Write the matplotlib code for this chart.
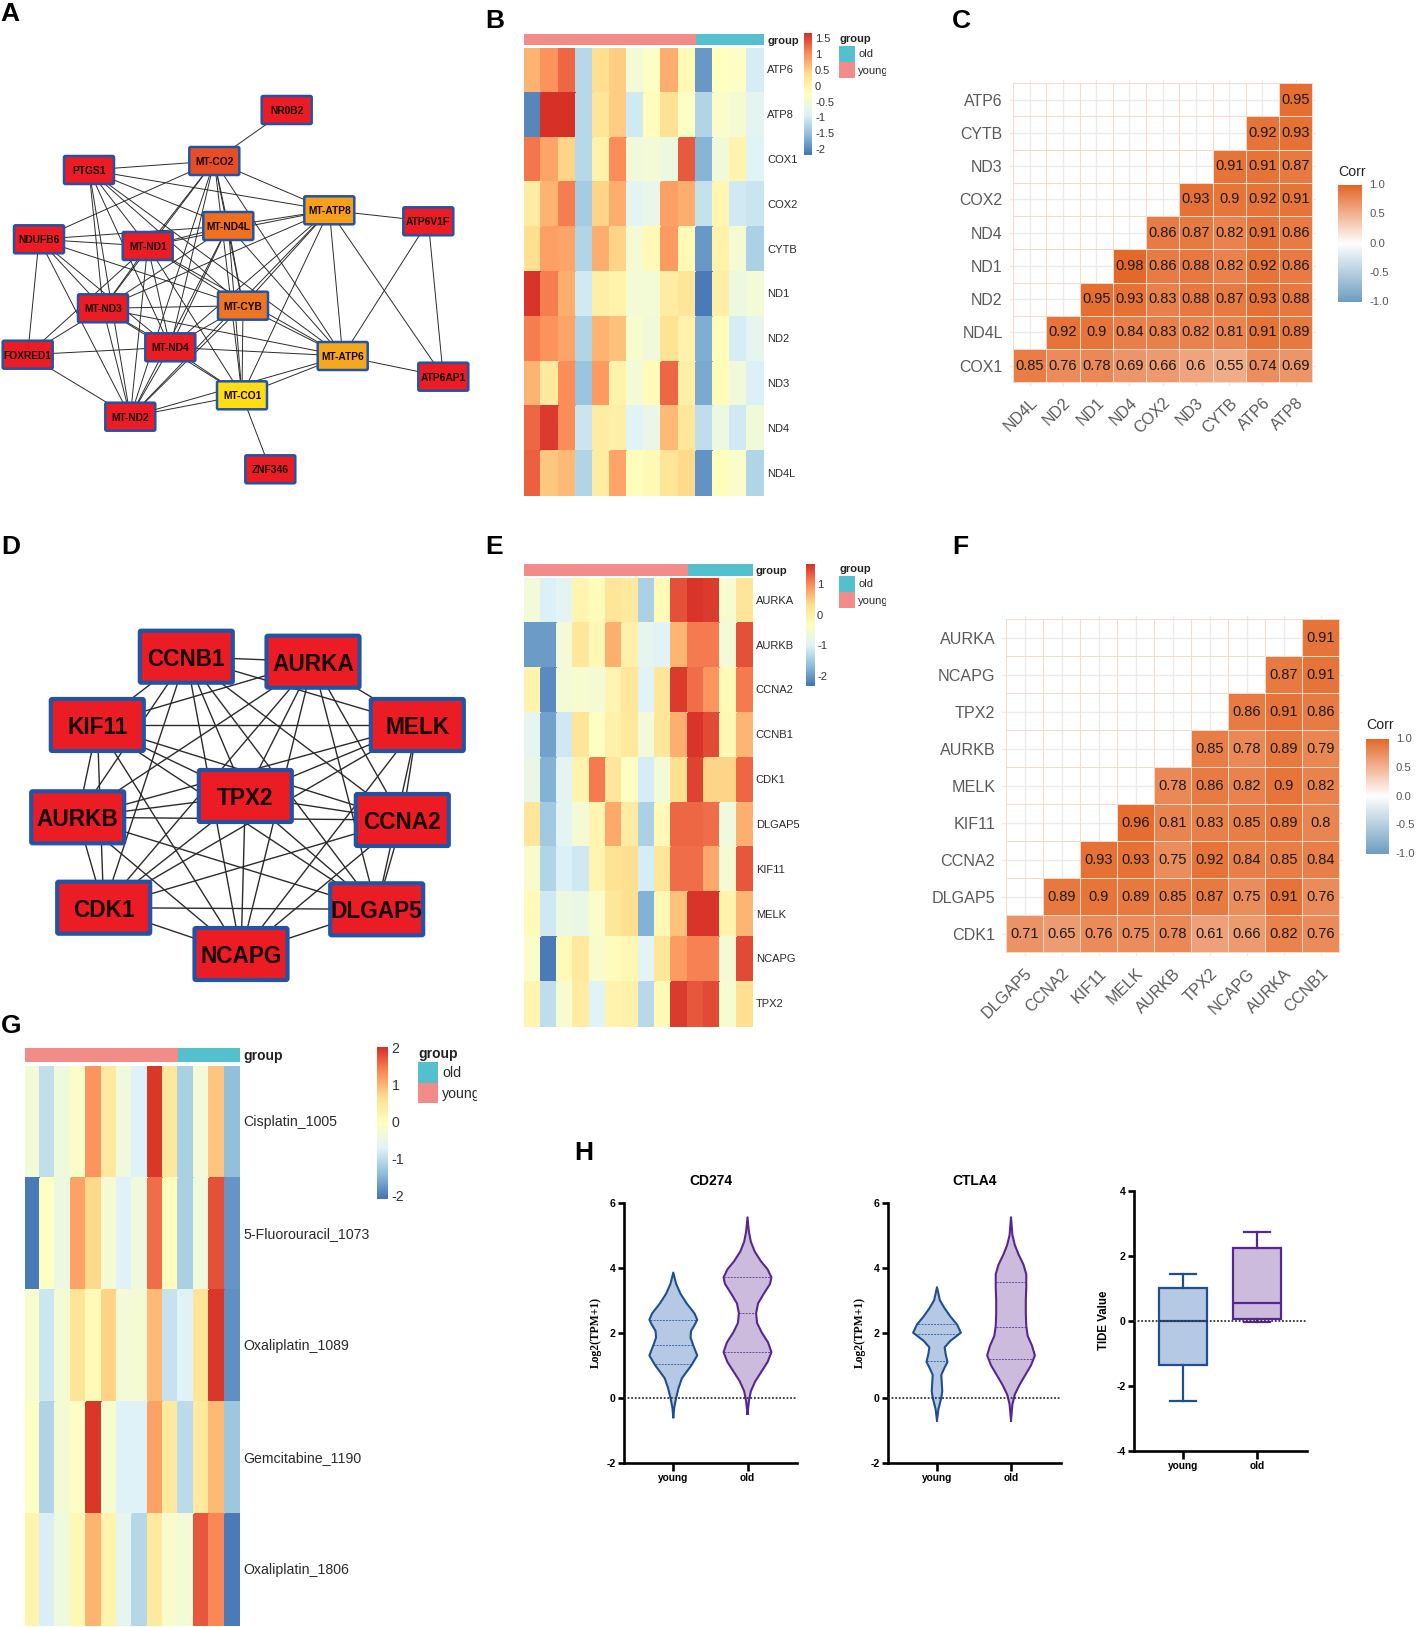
import itertools
import numpy as np
import matplotlib
matplotlib.use("Agg")
import matplotlib.pyplot as plt
from matplotlib.colors import LinearSegmentedColormap, Normalize
from matplotlib.patches import FancyBboxPatch, Rectangle
from matplotlib.transforms import Bbox

plt.rcParams['font.family'] = ['Liberation Sans', 'DejaVu Sans']

# ---------------- data ----------------
B_rows = ['ATP6', 'ATP8', 'COX1', 'COX2', 'CYTB', 'ND1', 'ND2', 'ND3', 'ND4', 'ND4L']
B_values = [
    [0.75, 1.0, 1.3, -1.2, 0.4, 0.55, -0.5, -0.3, 0.8, -0.1, -1.85, -0.25, -0.3, -0.95],
    [-2.0, 1.69, 1.69, -1.2, 0.3, 0.55, -1.0, -0.2, 0.35, -0.3, -1.25, -0.35, -0.45, -0.8],
    [1.2, 0.85, 0.5, -1.2, 0.05, 1.05, -0.55, -0.5, -0.6, 1.4, -1.6, -0.55, 0.0, -0.85],
    [0.15, 0.75, 1.15, -1.35, 0.5, 0.8, -0.8, -0.7, 0.9, 0.8, -1.1, -0.05, -1.0, -1.05],
    [0.4, 0.9, 0.85, -1.25, 0.8, 0.5, -0.45, -0.1, 0.95, -0.1, -1.85, 0.05, -0.45, -1.3],
    [1.65, 1.15, 0.8, -1.0, 0.1, 0.05, -0.5, -0.5, 0.15, 0.3, -2.1, 0.1, -0.6, -0.5],
    [1.15, 1.0, 0.85, -1.25, 0.75, 0.65, -0.4, -0.55, 0.35, 0.05, -1.65, -0.15, -0.95, -0.75],
    [0.75, 0.2, 1.05, -1.45, 0.95, 0.05, -0.5, -0.15, 1.3, 0.1, -1.7, -0.15, -0.55, -0.9],
    [1.3, 1.6, 1.05, -1.05, 0.15, 0.1, -0.85, -0.7, 0.7, 0.25, -1.15, -0.6, -1.0, -0.55],
    [1.35, 0.6, 0.7, -1.25, 0.15, 0.85, -0.2, -0.1, 0.3, 0.45, -1.9, -0.2, -0.35, -1.25],
]
B_ticks = [1.5, 1, 0.5, 0, -0.5, -1, -1.5, -2]

E_rows = ['AURKA', 'AURKB', 'CCNA2', 'CCNB1', 'CDK1', 'DLGAP5', 'KIF11', 'MELK', 'NCAPG', 'TPX2']
E_values = [
    [-0.6, -1.0, -0.9, -0.1, -0.25, 0.25, 0.15, -1.4, -0.2, 1.45, 1.65, 1.6, -0.5, 0.25],
    [-1.95, -1.95, -0.6, 0.2, -0.15, 0.75, 0.0, -0.85, -0.95, 0.7, 1.15, 1.15, -0.6, 1.45],
    [-0.05, -2.1, -0.55, -0.5, -0.55, -0.1, 0.2, -0.95, 0.2, 1.6, 1.25, 0.95, -0.2, 1.15],
    [-0.85, -1.9, -1.1, 0.25, -0.35, 0.0, 0.15, -0.6, 0.2, 0.75, 1.65, 1.5, -0.15, 0.7],
    [-0.75, -1.75, -0.9, -0.05, 1.15, 0.2, -0.35, -1.05, -0.6, 0.35, 1.55, 0.45, 0.45, 1.3],
    [0.2, -1.5, -0.9, -0.55, -0.1, 0.8, 0.1, -1.4, -0.2, 1.3, 1.3, 1.25, -0.65, 0.75],
    [-0.45, -1.35, -1.0, -1.1, -0.1, 0.3, 0.35, -1.05, 0.2, 1.25, 1.25, 0.8, -0.55, 1.4],
    [-0.2, -1.1, -0.7, -0.75, -0.4, 0.2, 0.35, -1.75, -0.15, 0.6, 1.65, 1.65, -0.05, 0.7],
    [-0.4, -2.25, -0.2, 0.15, -0.45, -0.25, -0.15, -0.9, 0.2, 0.9, 1.1, 1.1, -0.55, 1.5],
    [-0.1, -1.25, -0.5, 0.1, -0.95, -0.05, 0.0, -1.3, -0.2, 1.6, 1.4, 1.5, -0.5, 0.35],
]
E_ticks = [1, 0, -1, -2]

G_rows = ['Cisplatin_1005', '5-Fluorouracil_1073', 'Oxaliplatin_1089', 'Gemcitabine_1190', 'Oxaliplatin_1806']
G_values = [
    [-0.3, -0.95, -0.35, -0.1, 1.3, 0.45, -0.35, -0.7, 2, 0.5, -1.15, -0.3, 0.9, -1.35],
    [-2, -0.05, -0.4, 1.2, 0.75, -0.25, -0.7, -0.35, 1.6, 0.05, -1.15, -0.35, 1.8, -1.75],
    [-0.15, -0.85, -0.25, 0.6, 0.1, 0.8, -0.3, -0.25, 1.0, -0.9, -0.7, 0.55, 2, -1.8],
    [-0.05, -1.1, -0.25, -0.05, 2, -0.2, -0.7, -0.7, 1.2, 0.45, -1, 0.45, 1.0, -1.25],
    [0.25, -0.75, -0.35, 0.15, 1.05, 0.25, -0.55, -1.05, 0.45, -0.15, -0.3, 1.75, 1.4, -2],
]
G_ticks = [2, 1, 0, -1, -2]
n_young = 10

C_x = ['ND4L', 'ND2', 'ND1', 'ND4', 'COX2', 'ND3', 'CYTB', 'ATP6', 'ATP8']
C_y = ['ATP6', 'CYTB', 'ND3', 'COX2', 'ND4', 'ND1', 'ND2', 'ND4L', 'COX1']
C_values = [
    [0.95],
    [0.92, 0.93],
    [0.91, 0.91, 0.87],
    [0.93, 0.9, 0.92, 0.91],
    [0.86, 0.87, 0.82, 0.91, 0.86],
    [0.98, 0.86, 0.88, 0.82, 0.92, 0.86],
    [0.95, 0.93, 0.83, 0.88, 0.87, 0.93, 0.88],
    [0.92, 0.9, 0.84, 0.83, 0.82, 0.81, 0.91, 0.89],
    [0.85, 0.76, 0.78, 0.69, 0.66, 0.6, 0.55, 0.74, 0.69],
]
F_x = ['DLGAP5', 'CCNA2', 'KIF11', 'MELK', 'AURKB', 'TPX2', 'NCAPG', 'AURKA', 'CCNB1']
F_y = ['AURKA', 'NCAPG', 'TPX2', 'AURKB', 'MELK', 'KIF11', 'CCNA2', 'DLGAP5', 'CDK1']
F_values = [
    [0.91],
    [0.87, 0.91],
    [0.86, 0.91, 0.86],
    [0.85, 0.78, 0.89, 0.79],
    [0.78, 0.86, 0.82, 0.9, 0.82],
    [0.96, 0.81, 0.83, 0.85, 0.89, 0.8],
    [0.93, 0.93, 0.75, 0.92, 0.84, 0.85, 0.84],
    [0.89, 0.9, 0.89, 0.85, 0.87, 0.75, 0.91, 0.76],
    [0.71, 0.65, 0.76, 0.75, 0.78, 0.61, 0.66, 0.82, 0.76],
]
corr_ticks = [1.0, 0.5, 0.0, -0.5, -1.0]

A_mito = ['MT-CO2', 'MT-ATP8', 'MT-ND4L', 'MT-ND1', 'MT-CYB', 'MT-ND3', 'MT-ND4', 'MT-ATP6', 'MT-CO1', 'MT-ND2']
A_extra_edges = [
    ('NR0B2', 'MT-CO2'), ('ZNF346', 'MT-CO1'), ('ATP6V1F', 'MT-ATP8'), ('ATP6V1F', 'MT-ATP6'),
    ('ATP6V1F', 'ATP6AP1'), ('ATP6AP1', 'MT-ATP8'), ('ATP6AP1', 'MT-ATP6'),
    ('PTGS1', 'MT-CO2'), ('PTGS1', 'MT-ATP8'), ('PTGS1', 'MT-ND4L'), ('PTGS1', 'MT-ND1'),
    ('PTGS1', 'MT-ND3'), ('PTGS1', 'MT-CYB'), ('PTGS1', 'MT-ND4'), ('PTGS1', 'MT-ATP6'), ('PTGS1', 'MT-ND2'),
    ('NDUFB6', 'MT-CO2'), ('NDUFB6', 'MT-ND4L'), ('NDUFB6', 'MT-ND1'), ('NDUFB6', 'MT-CYB'),
    ('NDUFB6', 'MT-ND3'), ('NDUFB6', 'MT-ND4'), ('NDUFB6', 'FOXRED1'), ('NDUFB6', 'MT-ND2'),
    ('FOXRED1', 'MT-ND3'), ('FOXRED1', 'MT-ND1'), ('FOXRED1', 'MT-ND4'), ('FOXRED1', 'MT-ND2'),
]
D_genes = ['CCNB1', 'AURKA', 'KIF11', 'MELK', 'TPX2', 'AURKB', 'CCNA2', 'CDK1', 'DLGAP5', 'NCAPG']

# violin outlines (y value, half width in picture units)
cd274_young_y = [-0.6, -0.3, 0, 0.3, 0.6, 0.8, 1.0, 1.3, 1.6, 1.85, 2.05, 2.25, 2.4, 2.6, 2.9, 3.2, 3.5, 3.85]
cd274_young_w = [0, 2, 6, 11, 18, 28, 38, 50, 42, 36, 37, 45, 50, 44, 28, 15, 6, 0]
cd274_old_y = [-0.5, -0.1, 0.2, 0.5, 0.8, 1.1, 1.4, 1.7, 2.0, 2.3, 2.6, 2.9, 3.2, 3.5, 3.7, 3.95, 4.2, 4.5, 4.8, 5.1, 5.55]
cd274_old_w = [0, 3, 7, 16, 29, 42, 50, 43, 30, 20, 18, 22, 34, 47, 50, 42, 28, 15, 7, 3, 0]
ctla4_young_y = [-0.7, -0.35, 0, 0.2, 0.45, 0.7, 0.9, 1.1, 1.35, 1.55, 1.75, 2.0, 2.25, 2.5, 2.75, 3.0, 3.4]
ctla4_young_w = [0, 3, 9, 11, 10, 9, 15, 22, 18, 16, 28, 50, 42, 28, 16, 6, 0]
ctla4_old_y = [-0.7, -0.2, 0.1, 0.4, 0.7, 1.0, 1.3, 1.6, 1.9, 2.2, 2.6, 3.0, 3.4, 3.8, 4.1, 4.4, 4.7, 5.0, 5.55]
ctla4_old_w = [0, 3, 8, 18, 30, 42, 50, 44, 35, 32, 31, 31, 32, 32, 26, 16, 8, 3, 0]
cd274_young_q = [1.03, 1.62, 2.38]
cd274_old_q = [1.4, 2.6, 3.7]
ctla4_young_q = [1.12, 1.95, 2.28]
ctla4_old_q = [1.19, 2.17, 3.55]
tide_young = dict(whislo=-2.47, q1=-1.35, med=0.0, q3=1.0, whishi=1.45)
tide_old = dict(whislo=-0.03, q1=0.07, med=0.55, q3=2.25, whishi=2.75)
h_groups = ['young', 'old']

# ---------------- layout ----------------
W, H = 1418, 1627
fig = plt.figure(figsize=(W / 100, H / 100), dpi=100)

def axpx(l, t, r, b):
    return fig.add_axes([l / W, 1 - b / H, (r - l) / W, (b - t) / H])

ov = axpx(0, 0, W, H)
ov.set_xlim(0, W)
ov.set_ylim(H, 0)
ov.axis('off')
ov.set_zorder(5)
ov.patch.set_alpha(0)

RYB = LinearSegmentedColormap.from_list('ryb', ['#4575B4', '#91BFDB', '#E0F3F8', '#FFFFBF', '#FEE090', '#FC8D59', '#D73027'])
CORR = LinearSegmentedColormap.from_list('corr', ['#6D9EC1', '#FFFFFF', '#E46726'])
YOUNG, OLD = '#F28C89', '#55C0CD'

for s, x, y in [('A', 0, 14), ('B', 485, 21), ('C', 952, 21), ('D', 1, 547), ('E', 485, 547),
                ('F', 952, 547), ('G', 1, 1026), ('H', 574, 1153)]:
    ov.text(x, y, s, fontsize=19, fontweight='bold', va='center', ha='left', color='black')

def heatmap(vals, rows, box, annot, lab_x, group_y, rsize, gsize, vmin, vmax, cbox, ticks, tick_x, tick_size,
            leg_x, leg_w, leg_ys, leg_title_y, leg_lab_x, leg_lab_ys, clip_x):
    vals = np.array(vals, dtype=float)
    l, t, r, b = box
    ax = axpx(l, t, r, b)
    ax.pcolormesh(np.arange(15), np.arange(len(rows) + 1), vals, cmap=RYB, vmin=vmin, vmax=vmax,
                  edgecolors='face', linewidth=0.2)
    ax.set_ylim(len(rows), 0)
    ax.axis('off')
    an = axpx(l, annot[0], r, annot[1])
    an.pcolormesh([0, n_young, 14], [0, 1], [[0, 1]], cmap=LinearSegmentedColormap.from_list('g', [YOUNG, OLD]))
    an.axis('off')
    ov.text(lab_x, group_y, 'group', fontsize=gsize, fontweight='bold', va='center', color='#222222')
    rh = (b - t) / len(rows)
    for i, s in enumerate(rows):
        ov.text(lab_x, t + rh * (i + .5), s, fontsize=rsize, va='center', color='#2a2a2a')
    # colour bar
    cax = axpx(*cbox)
    grad = np.linspace(vmax, vmin, 200)[:, None]
    cax.imshow(grad, aspect='auto', cmap=RYB, vmin=vmin, vmax=vmax, extent=[0, 1, vmin, vmax], origin='upper')
    cax.axis('off')
    for v in ticks:
        yy = cbox[1] + (vmax - v) / (vmax - vmin) * (cbox[3] - cbox[1])
        ov.text(tick_x, yy, str(v), fontsize=tick_size, va='center', color='#333333')
    # legend
    ov.text(leg_x, leg_title_y, 'group', fontsize=gsize, fontweight='bold', va='center', color='#222222')
    ov.add_patch(Rectangle((leg_x, leg_ys[0]), leg_w, leg_ys[1] - leg_ys[0], fc=OLD, ec='none'))
    ov.add_patch(Rectangle((leg_x, leg_ys[1]), leg_w, leg_ys[2] - leg_ys[1], fc=YOUNG, ec='none'))
    ov.text(leg_lab_x, leg_lab_ys[0], 'old', fontsize=rsize, va='center', color='#2a2a2a')
    tx = ov.text(leg_lab_x, leg_lab_ys[1], 'young', fontsize=rsize, va='center', color='#2a2a2a')
    tx.set_clip_on(True)
    tx.set_clip_box(Bbox.from_extents(0, 0, clip_x, H))

heatmap(B_values, B_rows, (524.3, 48, 764.3, 496), (34, 45.3), 767, 41, 8, 8, -2.16, 1.69,
        (803.7, 33.3, 811, 155), B_ticks, 815, 8, 839, 16, (45.7, 61.7, 77.7), 38.7, 858.3, (53.7, 70.7), 885.7)
heatmap(E_values, E_rows, (524.3, 578.3, 753, 1026.7), (564.3, 576), 755.7, 571.3, 8, 8, -2.3, 1.69,
        (806, 564, 814.7, 685.7), E_ticks, 817, 8, 839, 16, (576, 592, 608.3), 569, 858.3, (584, 600.7), 885.7)
heatmap(G_values, G_rows, (24.7, 1065.8, 240, 1626), (1047.5, 1062), 243.3, 1056.3, 10.2, 10, -2.05, 2.05,
        (376.7, 1047, 387.3, 1199), G_ticks, 391.7, 10.2, 418, 20, (1062.4, 1082.6, 1102.8), 1053.6, 442.3,
        (1072.7, 1094), 476.7)

def corr(values, xl, yl, box, leg, title_y, lab_x, vsize, tsize):
    n = len(xl)
    l, t, r, b = box
    cell = (r - l) / n
    ax = axpx(l - 0.1 * cell, t - 0.1 * cell, r + 0.1 * cell, b + 0.1 * cell)
    ax.set_xlim(0.4, n + 0.6)
    ax.set_ylim(0.4, n + 0.6)
    M = np.full((n, n), np.nan)
    for i, row in enumerate(values):
        M[n - 1 - i, n - len(row):] = row
    ax.set_axisbelow(True)
    ax.grid(True, color='#EBEBEB', lw=1.0)
    ax.pcolormesh(np.arange(n + 1) + 0.5, np.arange(n + 1) + 0.5, np.ma.masked_invalid(M), cmap=CORR,
                  vmin=-1, vmax=1, edgecolors='#F6D9C8', linewidth=0.7)
    for i, row in enumerate(values):
        for j, v in enumerate(row):
            ax.text(n - len(row) + j + 1, n - i, str(v), ha='center', va='center', fontsize=vsize, color='#1a1a1a')
    for s in ax.spines.values():
        s.set_visible(False)
    ax.set_xticks(np.arange(1, n + 1))
    ax.set_yticks(np.arange(1, n + 1))
    ax.set_xticklabels(xl, rotation=45, ha='right', rotation_mode='anchor', fontsize=tsize, color='#5a5a5a')
    ax.set_yticklabels(yl[::-1], fontsize=tsize, color='#5a5a5a')
    ax.tick_params(axis='x', length=0, pad=7)
    ax.tick_params(axis='y', length=0, pad=5)
    cax = axpx(*leg)
    cax.imshow(np.linspace(1, -1, 200)[:, None], aspect='auto', cmap=CORR, vmin=-1, vmax=1, extent=[0, 1, -1, 1])
    cax.axis('off')
    ov.text(leg[0], title_y, 'Corr', fontsize=10.2, va='center', color='#222222')
    for v in corr_ticks:
        yy = leg[1] + (1 - v) / 2 * (leg[3] - leg[1])
        ov.text(lab_x, yy, f'{v:.1f}', fontsize=8.1, va='center', color='#555555')

corr(C_values, C_x, C_y, (1013, 83, 1312.3, 382.3), (1338.3, 185.3, 1361.7, 301.7), 171.7, 1369, 10.5, 11.4)
corr(F_values, F_x, F_y, (1006, 619.3, 1339.3, 952.3), (1366, 738.7, 1389, 854.3), 724.7, 1396, 10.5, 11.6)

def network(pos, edges, colors, size, bw, fs, lw):
    for a, b in edges:
        ov.plot([pos[a][0], pos[b][0]], [pos[a][1], pos[b][1]], color='#2b2b2b', lw=lw, zorder=1,
                solid_capstyle='butt')
    w, h = size
    for name, (x, y) in pos.items():
        ov.add_patch(FancyBboxPatch((x - w / 2, y - h / 2), w, h, boxstyle='round,pad=0,rounding_size=1.5',
                                    fc=colors.get(name, '#EC1C24'), ec='#2353A5', lw=bw, zorder=2))
        ov.text(x, y, name, ha='center', va='center_baseline', fontsize=fs, fontweight='bold', color='#160505', zorder=3)

A_pos = {'NR0B2': (286.7, 110), 'MT-CO2': (214.3, 161), 'PTGS1': (89, 170), 'MT-ATP8': (329.3, 210.3),
         'ATP6V1F': (428.3, 221.3), 'MT-ND4L': (228.3, 226), 'NDUFB6': (39, 239.3), 'MT-ND1': (147.7, 246),
         'MT-CYB': (243, 305.7), 'MT-ND3': (103, 308.3), 'MT-ND4': (170.3, 347.3), 'FOXRED1': (27.7, 354.7),
         'MT-ATP6': (342.7, 356), 'ATP6AP1': (443.3, 376.7), 'MT-CO1': (242, 395.3), 'MT-ND2': (130.3, 416.7),
         'ZNF346': (270.3, 469.3)}
A_colors = {'MT-CO2': '#E84E25', 'MT-ATP8': '#F7A11A', 'MT-ND4L': '#F0701E', 'MT-CYB': '#EE7621',
            'MT-ATP6': '#F6A81C', 'MT-CO1': '#FFDD15'}
network(A_pos, list(itertools.combinations(A_mito, 2)) + A_extra_edges, A_colors, (50, 28), 1.8, 7.4, 0.7)

D_pos = {'CCNB1': (186.3, 656.7), 'AURKA': (313, 661.7), 'KIF11': (97.3, 725), 'MELK': (417.3, 725),
         'TPX2': (245.3, 796), 'AURKB': (77.7, 817.3), 'CCNA2': (402.3, 820), 'CDK1': (103.7, 907.7),
         'DLGAP5': (376.7, 909.3), 'NCAPG': (241, 954)}
network(D_pos, list(itertools.combinations(D_genes, 2)), {}, (93, 52), 3.0, 16.3, 1.0)

BLUE_L, BLUE_F = '#1F4F8F', '#B5C9E4'
PUR_L, PUR_F = '#55278F', '#CDBBDE'

def h_axes(l, t, r, b, ylim, yticks):
    ax = axpx(l, t, r, b)
    ax.patch.set_alpha(0)
    ax.set_ylim(*ylim)
    for s in ['top', 'right']:
        ax.spines[s].set_visible(False)
    for s in ['left', 'bottom']:
        ax.spines[s].set_linewidth(1.9)
    ax.set_xticks([1, 2])
    ax.set_xticklabels(h_groups, fontsize=7.3, fontweight='bold')
    ax.set_yticks(yticks)
    ax.set_yticklabels([str(v) for v in yticks], fontsize=7.6, fontweight='bold')
    ax.tick_params(axis='both', width=1.9)
    ax.tick_params(axis='x', length=5.5, pad=2)
    ax.tick_params(axis='y', length=4.5, pad=1.5)
    ax.axhline(0, color='#333333', lw=1.3, ls=(0, (1, 1)), zorder=4)
    return ax

def violin(ax, x, ys, ws, qs, line, fill):
    ys = np.array(ys, dtype=float)
    ws = np.array(ws, dtype=float) / 155
    ax.fill_betweenx(ys, x - ws, x + ws, color=fill, lw=0, zorder=2)
    ax.plot(np.r_[x - ws, (x + ws)[::-1]], np.r_[ys, ys[::-1]], color=line, lw=1.5, zorder=3)
    for q in qs:
        hw = np.interp(q, ys, ws)
        ax.plot([x - hw, x + hw], [q, q], color=line, lw=0.7, ls=(0, (2, 1.2)), alpha=.8, zorder=3)

xl_v = lambda l, r, p1, p2: (1 - (p1 - l) / (p2 - p1), 2 + (r - p2) / (p2 - p1))

ax1 = h_axes(624, 1202.7, 797, 1462.7, (-2, 6), [-2, 0, 2, 4, 6])
ax1.set_xlim(*xl_v(624, 797, 673.3, 747.5))
violin(ax1, 1, cd274_young_y, cd274_young_w, cd274_young_q, BLUE_L, BLUE_F)
violin(ax1, 2, cd274_old_y, cd274_old_w, cd274_old_q, PUR_L, PUR_F)
ax2 = h_axes(888, 1202.7, 1061.4, 1462.7, (-2, 6), [-2, 0, 2, 4, 6])
ax2.set_xlim(*xl_v(888, 1061.4, 937, 1011))
violin(ax2, 1, ctla4_young_y, ctla4_young_w, ctla4_young_q, BLUE_L, BLUE_F)
violin(ax2, 2, ctla4_old_y, ctla4_old_w, ctla4_old_q, PUR_L, PUR_F)
ov.text(710.7, 1180.7, 'CD274', ha='center', va='center', fontsize=10, fontweight='bold')
ov.text(975, 1180.7, 'CTLA4', ha='center', va='center', fontsize=10, fontweight='bold')
for x in (595.4, 860):
    ov.text(x, 1333, 'Log2(TPM+1)', rotation=90, ha='center', va='center', fontsize=8.4, fontweight='bold',
            family=['Liberation Serif', 'DejaVu Serif'])

ax3 = h_axes(1134, 1191, 1306.8, 1450.7, (-4, 4), [-4, -2, 0, 2, 4])
ax3.set_xlim(*xl_v(1134, 1306.8, 1183, 1257))
for x, st, line, fill in [(1, tide_young, BLUE_L, BLUE_F), (2, tide_old, PUR_L, PUR_F)]:
    stats = [dict(st, fliers=[])]
    ax3.bxp(stats, positions=[x], widths=0.65, patch_artist=True, showfliers=False, manage_ticks=False,
            boxprops=dict(facecolor=fill, edgecolor=line, linewidth=1.6, zorder=2),
            medianprops=dict(color=line, linewidth=1.6, zorder=3),
            whiskerprops=dict(color=line, linewidth=1.6, zorder=2),
            capprops=dict(color=line, linewidth=1.6, zorder=2), capwidths=0.36)
ov.text(1104.4, 1320.7, 'TIDE Value', rotation=90, ha='center', va='center', fontsize=8.3, fontweight='bold')

fig.savefig('out.png', dpi=100, facecolor='white')
